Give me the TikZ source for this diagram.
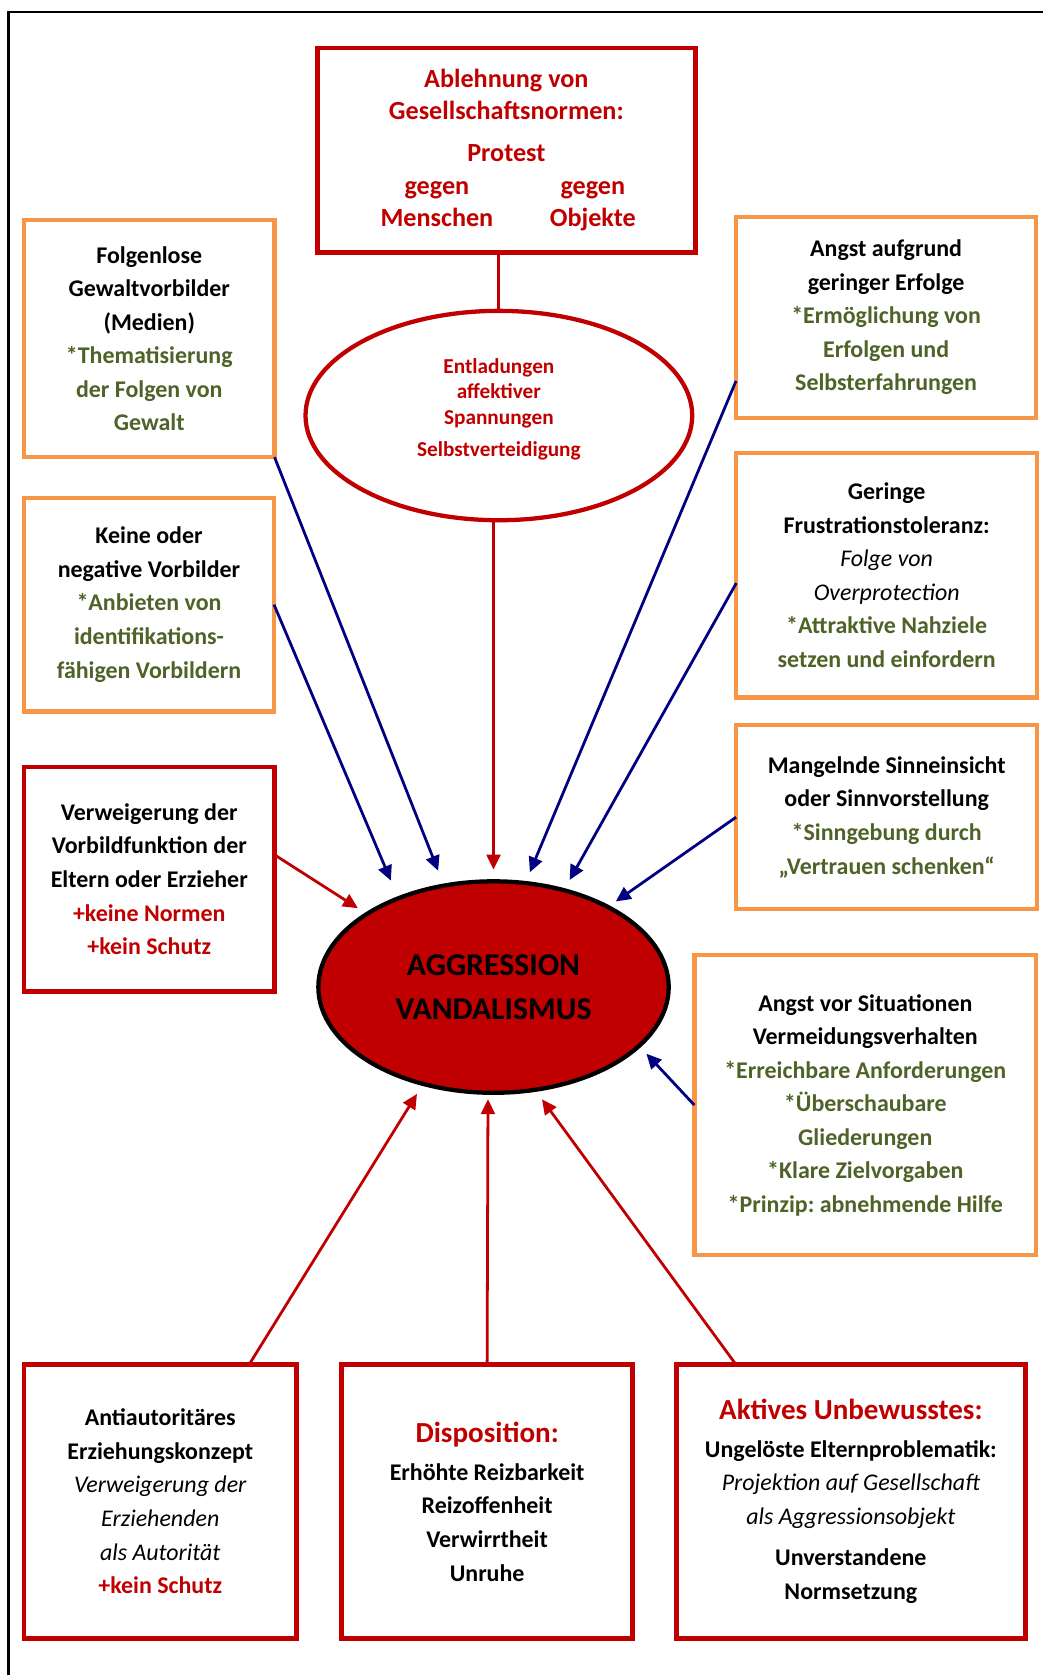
\documentclass[tikz,border=0pt]{standalone}
\usepackage{fontspec}
\setmainfont{Carlito}
\usetikzlibrary{shapes.geometric}
\usetikzlibrary{arrows.meta}
\frenchspacing
\definecolor{boxred}{HTML}{C00000}
\definecolor{boxorange}{HTML}{F79646}
\definecolor{textgreen}{HTML}{4F6228}
\definecolor{arrowblue}{HTML}{000080}
\newcommand{\basefont}{\fontsize{22.4pt}{31.4pt}\selectfont\bfseries}
\newcommand{\topfont}{\fontsize{24.5pt}{30.5pt}\selectfont\bfseries}
\newcommand{\entlfont}{\fontsize{19.9pt}{24pt}\selectfont\bfseries}
\newcommand{\aggrfont}{\fontsize{29.7pt}{41pt}\selectfont\bfseries}
\newcommand{\gn}[1]{\textcolor{textgreen}{#1}}
\newcommand{\rd}[1]{\textcolor{boxred}{#1}}
\newcommand{\note}[1]{{\mdseries\itshape #1}}
\newcommand{\head}[1]{{\fontsize{27.2pt}{31.4pt}\selectfont\rd{#1}}}
\tikzstyle{diagram}=[x=1pt, y=-1pt, font=\basefont]
\tikzstyle{cbox}=[rectangle, inner sep=0pt, outer sep=0pt, align=center, fill=white]
\tikzstyle{obox}=[cbox, draw=boxorange, line width=4pt]
\tikzstyle{rbox}=[cbox, draw=boxred, line width=4.5pt]
\tikzstyle{oval}=[ellipse, inner sep=0pt, outer sep=0pt, align=center, line width=4pt]
\tikzstyle{pageframe}=[draw=black, line width=2pt]
\tikzstyle{plainlink}=[draw=boxred, line width=3pt]
\tikzstyle{bedge}=[draw=arrowblue, line width=2.6pt, -{Triangle[length=14pt, width=13pt]}, shorten >=11pt]
\tikzstyle{redge}=[bedge, draw=boxred]

\begin{document}
\begin{tikzpicture}[diagram]
	\useasboundingbox (0,0) rectangle (976,1568);
	\draw[pageframe] (8,1568) -- (8,11) -- (976,11);
	%% top
	\draw (474,140.5) node[rbox, minimum width=354pt, minimum height=191pt, font=\topfont] (ablehn) {\rd{Ablehnung von}\\ \rd{Gesellschaftsnormen:}\\[8.5pt] \rd{Protest}\\ \rd{\makebox[110pt]{gegen}\hspace{52pt}\makebox[78pt]{gegen}}\\ \rd{\makebox[110pt]{Menschen}\hspace{52pt}\makebox[78pt]{Objekte}}};
	\draw (467,389) node[oval, draw=boxred, minimum width=362pt, minimum height=196pt] (entl) {};
	\draw ([yshift=6pt]entl.center) node[font=\entlfont, align=center] (entltext) {\rd{Entladungen}\\ \rd{affektiver}\\ \rd{Spannungen}\\[6pt] \rd{Selbstverteidigung}};
	\draw (462,924) node[oval, draw=black, fill=boxred, minimum width=328pt, minimum height=198pt, font=\aggrfont] (aggr) {AGGRESSION\\VANDALISMUS};
	%% left
	\draw (139.75,317) node[obox, minimum width=234.5pt, minimum height=222pt] (folgen) {Folgenlose\\Gewaltvorbilder\\(Medien)\\ \gn{*Thematisierung}\\ \gn{der Folgen von}\\ \gn{Gewalt}};
	\draw (139.5,566) node[obox, minimum width=234pt, minimum height=200pt] (keine) {Keine oder\\negative Vorbilder\\ \gn{*Anbieten von}\\ \gn{identifikations-}\\ \gn{fähigen Vorbildern}};
	\draw (139.75,823) node[rbox, minimum width=234.5pt, minimum height=210pt] (verweig) {Verweigerung der\\Vorbildfunktion der\\Eltern oder Erzieher\\ \rd{+keine Normen}\\ \rd{+kein Schutz}};
	%% right
	\draw (829.5,297) node[obox, minimum width=281pt, minimum height=188pt] (erfolg) {Angst aufgrund\\geringer Erfolge\\ \gn{*Ermöglichung von}\\ \gn{Erfolgen und}\\ \gn{Selbsterfahrungen}};
	\draw (830,538.5) node[obox, minimum width=281.5pt, minimum height=229pt] (geringe) {Geringe\\Frustrationstoleranz:\\ \note{Folge von}\\ \note{Overprotection}\\ \gn{*Attraktive Nahziele}\\ \gn{setzen und einfordern}};
	\draw (830,765) node[obox, minimum width=282pt, minimum height=172pt] (sinn) {Mangelnde Sinneinsicht\\oder Sinnvorstellung\\ \gn{*Sinngebung durch}\\ \gn{„Vertrauen schenken“}};
	\draw (810,1034.5) node[obox, minimum width=320pt, minimum height=281pt] (situat) {Angst vor Situationen\\Vermeidungsverhalten\\ \gn{*Erreichbare Anforderungen}\\ \gn{*Überschaubare}\\ \gn{Gliederungen}\\ \gn{*Klare Zielvorgaben}\\ \gn{*Prinzip: abnehmende Hilfe}};
	%% bottom
	\draw (150,1405.5) node[rbox, minimum width=255pt, minimum height=257pt] (anti) {Antiautoritäres\\Erziehungskonzept\\ \note{Verweigerung der}\\ \note{Erziehenden}\\ \note{als Autorität}\\ \rd{+kein Schutz}};
	\draw (456,1405.5) node[rbox, minimum width=272pt, minimum height=257pt] (dispo) {\head{Disposition:}\\[4.5pt] Erhöhte Reizbarkeit\\Reizoffenheit\\Verwirrtheit\\Unruhe};
	\draw (796.5,1405.5) node[rbox, minimum width=327pt, minimum height=257pt] (aktiv) {\head{Aktives Unbewusstes:}\\[3.5pt] Ungelöste Elternproblematik:\\ \note{Projektion auf Gesellschaft}\\ \note{als Aggressionsobjekt}\\[7.5pt] Unverstandene\\Normsetzung};
	%% connectors
	\draw[plainlink] (entl.north) -- (entl.north |- ablehn.south);
	\draw[redge] (entl.south -| aggr.north) -- (aggr.north);
	\draw[bedge, shorten >=15pt] (folgen.south east) -- (aggr.116);
	\draw[bedge, shorten >=18pt] (keine.east) -- (aggr.137);
	\draw[redge, shorten >=10pt] (verweig.11) -- (aggr.150);
	\draw[bedge] (erfolg.203) -- (aggr.73);
	\draw[bedge] (geringe.183) -- (aggr.54);
	\draw[bedge, shorten >=9pt] (sinn.west) -- (aggr.35);
	\draw[bedge, shorten >=10pt] (situat.west) -- (aggr.-22);
	\draw[redge] (anti.57) -- (aggr.-126);
	\draw[redge, shorten >=6pt] (dispo.north) -- (aggr.-93.5);
	\draw[redge] (aktiv.130) -- (aggr.-68);
\end{tikzpicture}
\end{document}
